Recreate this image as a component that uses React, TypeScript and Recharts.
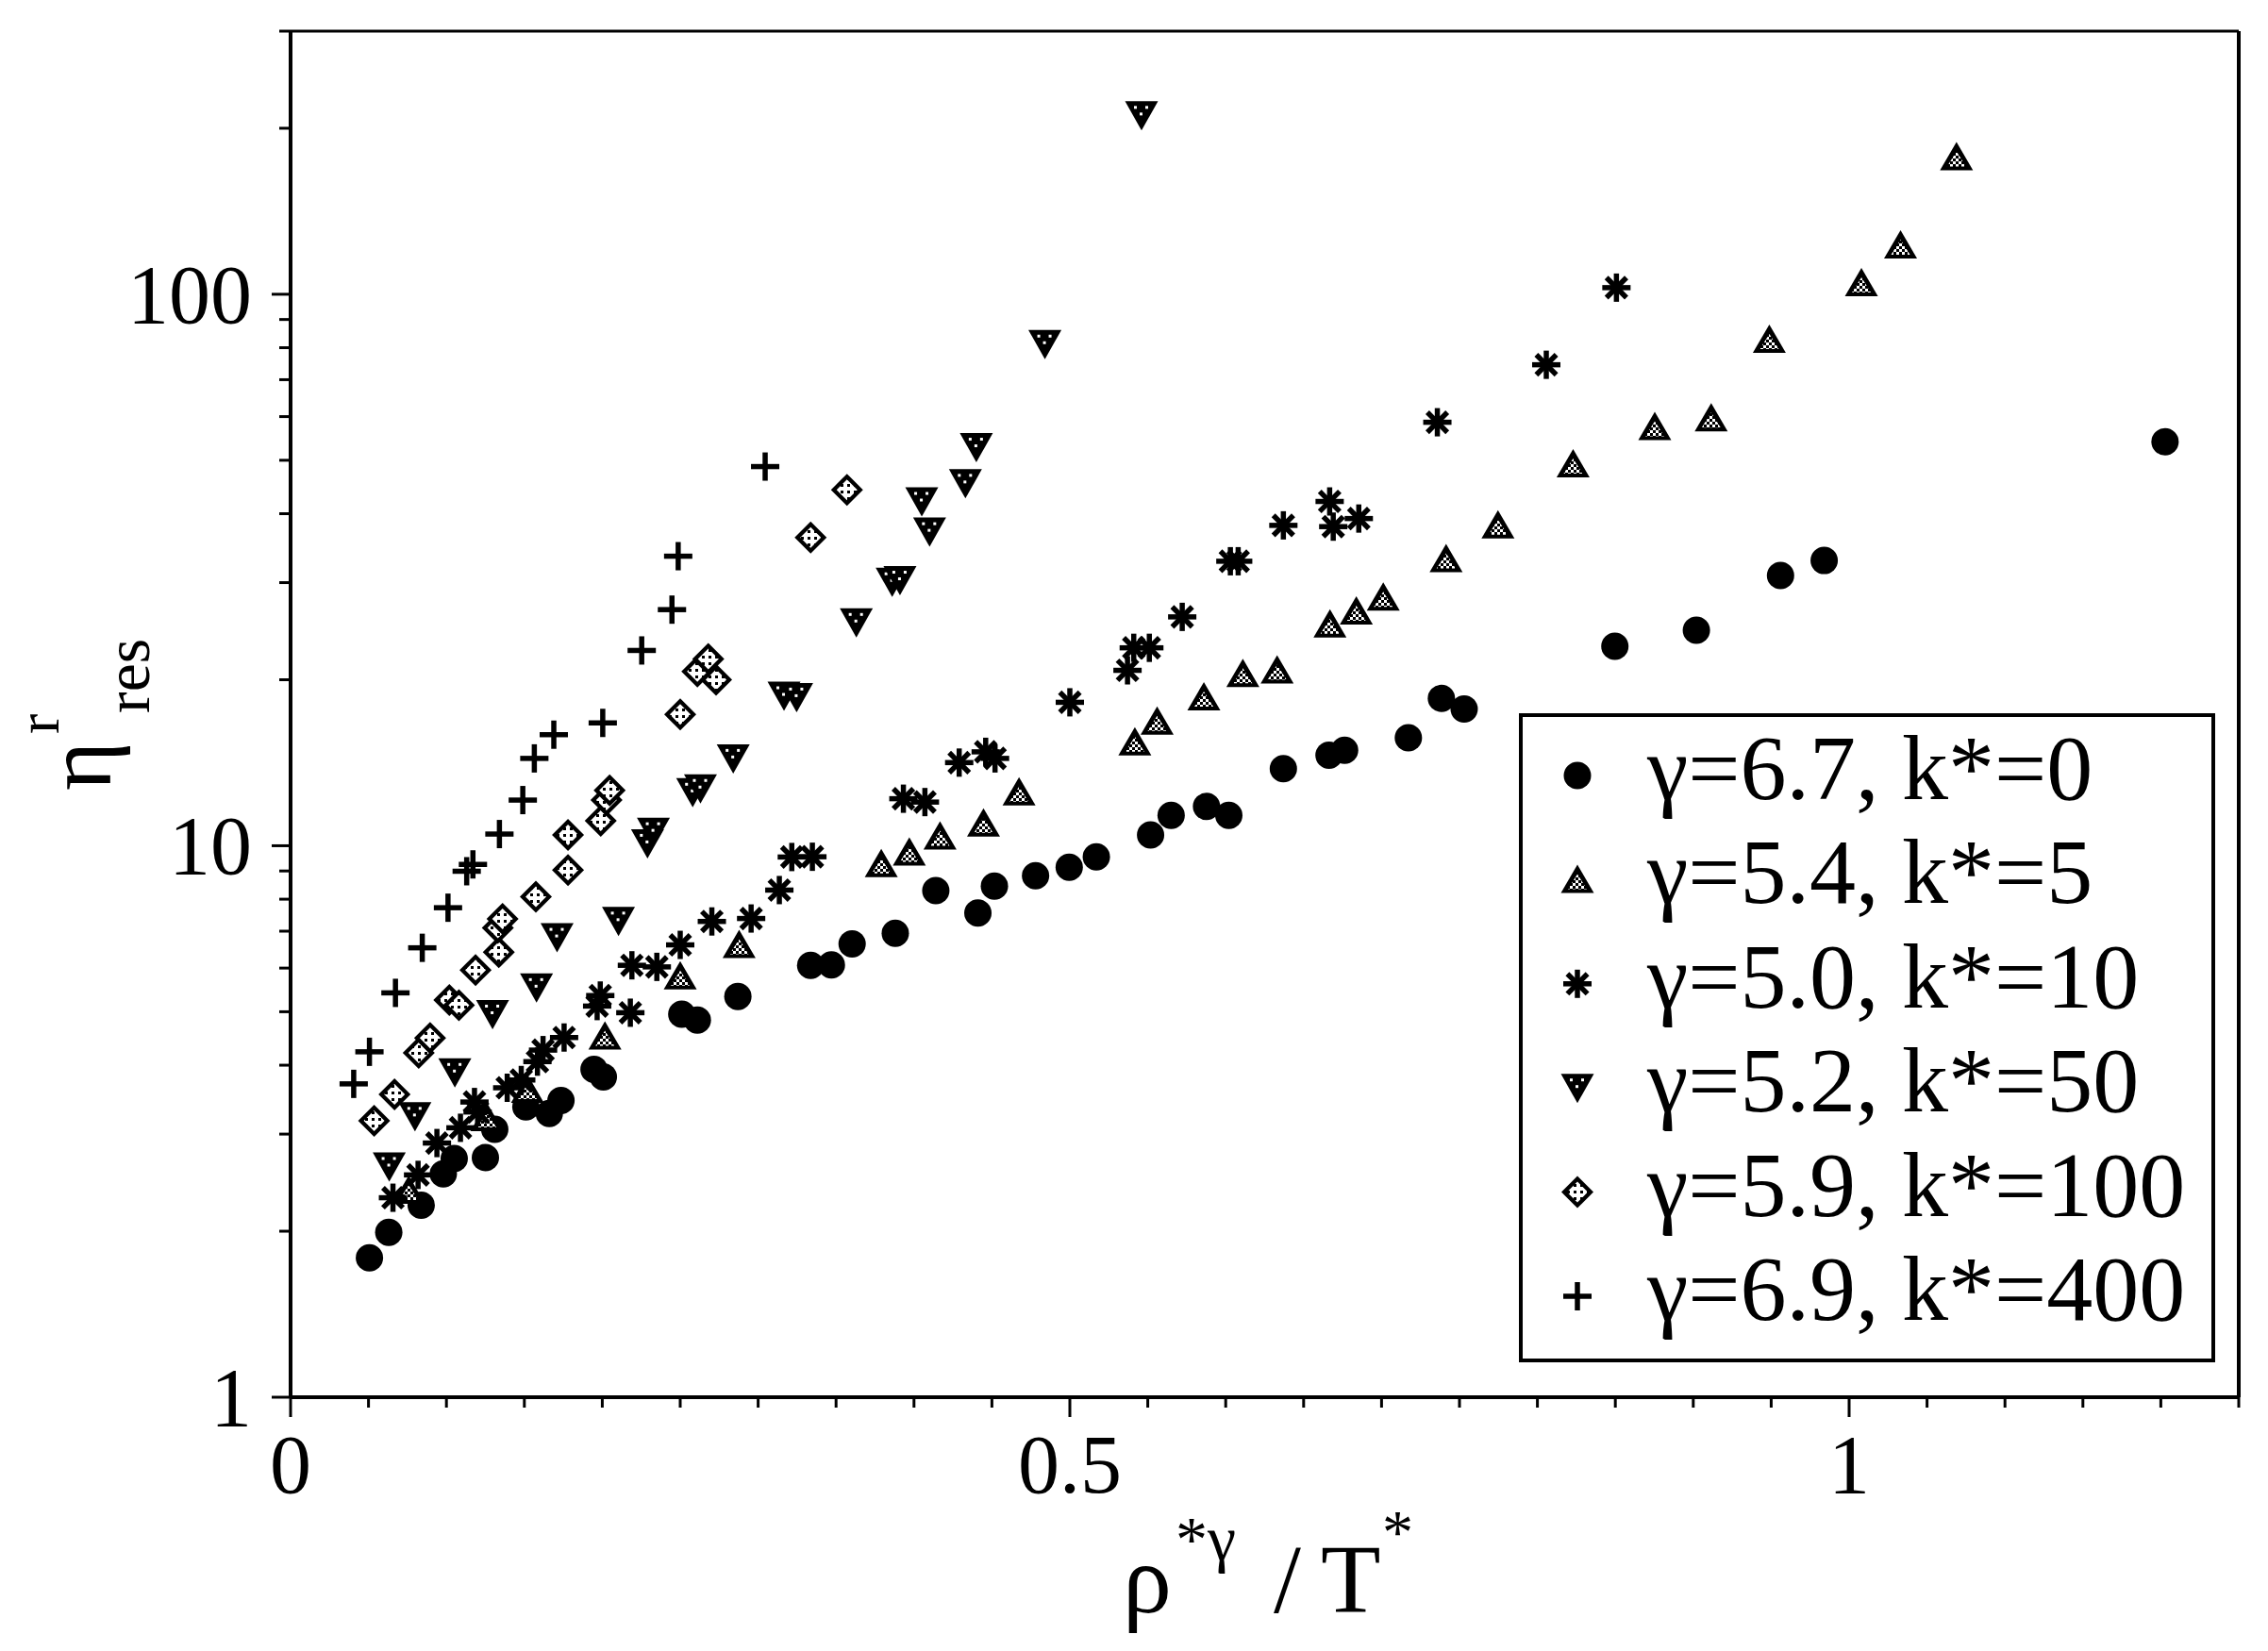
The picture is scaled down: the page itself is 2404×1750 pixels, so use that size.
import React from 'react';
import {
  ScatterChart,
  Scatter,
  XAxis,
  YAxis,
  Legend,
  Label,
  ReferenceLine,
} from 'recharts';

// ---- data: [x = rho*^gamma / T*, y = eta^r_res] ----
const K0 = [
  [0.0506, 1.79], [0.063, 1.99], [0.0838, 2.23], [0.098, 2.54], [0.105, 2.71],
  [0.125, 2.72], [0.131, 3.06], [0.151, 3.36], [0.166, 3.27], [0.1735, 3.45],
  [0.1947, 3.93], [0.2007, 3.81], [0.251, 4.95], [0.261, 4.83], [0.287, 5.33],
  [0.3337, 6.07], [0.347, 6.08], [0.3603, 6.64], [0.388, 6.94], [0.414, 8.29],
  [0.441, 7.55], [0.4516, 8.45], [0.478, 8.82], [0.4996, 9.14], [0.517, 9.55],
  [0.5518, 10.46], [0.565, 11.35], [0.5877, 11.78], [0.602, 11.35], [0.637, 13.8],
  [0.6663, 14.6], [0.6763, 14.9], [0.7172, 15.7], [0.7384, 18.5], [0.753, 17.7],
  [0.8497, 23.0], [0.902, 24.6], [0.956, 30.9], [0.984, 32.9], [1.2027, 54.0],
];

const K5 = [
  [0.0758, 2.37], [0.126, 3.21], [0.152, 3.61], [0.2017, 4.51], [0.25, 5.8],
  [0.2878, 6.61], [0.379, 9.27], [0.397, 9.73], [0.4167, 10.4], [0.4446, 10.98],
  [0.4674, 12.5], [0.5417, 15.4], [0.556, 16.8], [0.586, 18.6], [0.611, 20.5],
  [0.633, 20.8], [0.6669, 25.2], [0.6838, 26.6], [0.7011, 28.2], [0.7414, 33.1],
  [0.7747, 38.1], [0.8229, 49.2], [0.8753, 57.5], [0.9115, 59.6], [0.9488, 82.7],
  [1.0079, 104.8], [1.033, 122.7], [1.0689, 177.3],
];

const K10 = [
  [0.0657, 2.3], [0.0818, 2.53], [0.0939, 2.89], [0.109, 3.08], [0.118, 3.43],
  [0.12, 3.29], [0.139, 3.64], [0.148, 3.76], [0.1584, 4.06], [0.162, 4.26],
  [0.1755, 4.49], [0.1967, 5.12], [0.1987, 5.35], [0.218, 4.98], [0.219, 6.07],
  [0.235, 6.03], [0.25, 6.61], [0.2703, 7.29], [0.2955, 7.38], [0.3136, 8.31],
  [0.3216, 9.54], [0.3348, 9.55], [0.3932, 12.17], [0.407, 12.0], [0.429, 14.15],
  [0.446, 14.8], [0.452, 14.4], [0.5, 18.2], [0.537, 20.8], [0.541, 22.85],
  [0.551, 22.85], [0.5721, 26.0], [0.603, 32.8], [0.608, 32.8], [0.637, 38.1],
  [0.6667, 42.1], [0.669, 37.9], [0.6854, 39.2], [0.7358, 58.6], [0.8057, 74.5],
  [0.8507, 102.8],
];

const K50 = [
  [0.0633, 2.62], [0.0798, 3.23], [0.1054, 3.88], [0.1296, 4.95], [0.1578, 5.53],
  [0.171, 6.82], [0.2104, 7.3], [0.229, 10.1], [0.2328, 10.6], [0.258, 12.5],
  [0.263, 12.7], [0.284, 14.4], [0.3166, 18.7], [0.3247, 18.6], [0.363, 25.4],
  [0.386, 30.1], [0.391, 30.3], [0.405, 42.1], [0.41, 37.1], [0.433, 45.4],
  [0.44, 52.8], [0.484, 81.2], [0.546, 211],
];

const K100 = [
  [0.0536, 3.17], [0.0667, 3.54], [0.0822, 4.21], [0.0895, 4.48], [0.1019, 5.25],
  [0.108, 5.14], [0.1187, 5.95], [0.1336, 6.41], [0.133, 7.1], [0.136, 7.37],
  [0.1574, 8.08], [0.178, 9.03], [0.178, 10.46], [0.199, 11.1], [0.2027, 12.1],
  [0.2047, 12.6], [0.25, 17.3], [0.261, 20.7], [0.268, 21.8], [0.273, 20.0],
  [0.3337, 36.2], [0.357, 44.2],
];

const K400 = [
  [0.0405, 3.7], [0.0506, 4.23], [0.0673, 5.41], [0.0845, 6.53], [0.101, 7.72],
  [0.113, 8.99], [0.117, 9.25], [0.134, 10.5], [0.149, 12.1], [0.1564, 14.4],
  [0.1689, 15.9], [0.2003, 16.7], [0.2253, 22.6], [0.2447, 26.8], [0.2487, 33.5],
  [0.3045, 48.7],
];

const SERIES_NAMES = [
  'γ=6.7, k*=0',
  'γ=5.4, k*=5',
  'γ=5.0, k*=10',
  'γ=5.2, k*=50',
  'γ=5.9, k*=100',
  'γ=6.9, k*=400',
];
const SERIES_DATA = [K0, K5, K10, K50, K100, K400];
const SERIES_KIND = ['circle', 'triUp', 'star', 'triDown', 'diamond', 'plus'];

const X_TICKS = [
  0, 0.05, 0.1, 0.15, 0.2, 0.25, 0.3, 0.35, 0.4, 0.45, 0.5, 0.55, 0.6,
  0.65, 0.7, 0.75, 0.8, 0.85, 0.9, 0.95, 1, 1.05, 1.1, 1.15, 1.2, 1.25,
];
const X_LABELS = [[0, '0'], [0.5, '0.5'], [1, '1']];
const Y_TICKS = [
  1, 2, 3, 4, 5, 6, 7, 8, 9, 10, 20, 30, 40, 50, 60, 70, 80, 90, 100, 200, 300,
];
const Y_LABELS = [[1, '1'], [10, '10'], [100, '100']];

const FONT = 'Liberation Serif, Times New Roman, Tinos, DejaVu Serif, serif';

const toPoints = (arr: number[][]) => arr.map(([x, y]) => ({ x, y }));

function Marker({ kind, cx, cy }: { kind: string; cx: number; cy: number }) {
  if (cx == null || cy == null) return null;
  switch (kind) {
    case 'circle':
      return <circle cx={cx} cy={cy} r={14.5} fill="#000" />;
    case 'triUp': {
      const outer = `${cx},${cy - 16} ${cx + 17.5},${cy + 14} ${cx - 17.5},${cy + 14}`;
      const inner = `${cx},${cy - 6} ${cx + 10},${cy + 10} ${cx - 10},${cy + 10}`;
      return (
        <g>
          <polygon points={outer} fill="#000" />
          <polygon points={inner} fill="url(#checker)" />
        </g>
      );
    }
    case 'triDown': {
      const pts = `${cx - 17.5},${cy - 15} ${cx + 17.5},${cy - 15} ${cx},${cy + 16}`;
      return (
        <g>
          <polygon points={pts} fill="#000" />
          <rect x={cx - 8} y={cy - 10} width={3} height={3} fill="#fff" />
          <rect x={cx + 4} y={cy - 10} width={3} height={3} fill="#fff" />
          <rect x={cx - 2} y={cy - 3} width={3} height={3} fill="#fff" />
        </g>
      );
    }
    case 'diamond': {
      const o = 17;
      const i = 11;
      return (
        <g>
          <polygon points={`${cx},${cy - o} ${cx + o},${cy} ${cx},${cy + o} ${cx - o},${cy}`} fill="#000" />
          <polygon points={`${cx},${cy - i} ${cx + i},${cy} ${cx},${cy + i} ${cx - i},${cy}`} fill="url(#dice)" />
        </g>
      );
    }
    case 'star': {
      const r = 15;
      const d = r * 0.7071;
      return (
        <g stroke="#000" strokeWidth={5.5}>
          <line x1={cx - r} y1={cy} x2={cx + r} y2={cy} />
          <line x1={cx} y1={cy - r} x2={cx} y2={cy + r} />
          <line x1={cx - d} y1={cy - d} x2={cx + d} y2={cy + d} />
          <line x1={cx - d} y1={cy + d} x2={cx + d} y2={cy - d} />
        </g>
      );
    }
    case 'plus':
      return (
        <g stroke="#000" strokeWidth={5.5}>
          <line x1={cx - 15} y1={cy} x2={cx + 15} y2={cy} />
          <line x1={cx} y1={cy - 15} x2={cx} y2={cy + 15} />
        </g>
      );
    default:
      return null;
  }
}

function XTick({ x, y, payload }: any) {
  const v = payload.value;
  const lab = X_LABELS.find((l) => Math.abs((l[0] as number) - v) < 1e-6);
  return (
    <g>
      <line x1={x} y1={y} x2={x} y2={y + (lab ? 21 : 11)} stroke="#000" strokeWidth={3} />
      {lab && (
        <text x={x} y={y + 101} textAnchor="middle" style={{ fontFamily: FONT }} fontSize={88} fill="#000">
          {lab[1]}
        </text>
      )}
    </g>
  );
}

function YTick({ x, y, payload }: any) {
  const v = payload.value;
  const lab = Y_LABELS.find((l) => l[0] === v);
  return (
    <g>
      <line x1={x - (lab ? 20 : 12)} y1={y} x2={x} y2={y} stroke="#000" strokeWidth={3} />
      {lab && (
        <text x={x - 41} y={y + 30} textAnchor="end" style={{ fontFamily: FONT }} fontSize={88} fill="#000">
          {lab[1]}
        </text>
      )}
    </g>
  );
}

function YTitle() {
  return (
    <g transform="translate(117, 838) rotate(-90)">
      <text style={{ fontFamily: FONT }} fill="#000">
        <tspan x={0} y={0} fontSize={100}>η</tspan>
        <tspan x={60} y={-55} fontSize={64}>r</tspan>
        <tspan x={82} y={41} fontSize={68}>res</tspan>
      </text>
    </g>
  );
}

function XTitle() {
  return (
    <text style={{ fontFamily: FONT }} fill="#000">
      <tspan x={1190} y={1709} fontSize={104}>ρ</tspan>
      <tspan x={1246} y={1654} fontSize={68}>*γ</tspan>
      <tspan x={1350} y={1709} fontSize={104}>/</tspan>
      <tspan x={1400} y={1709} fontSize={104}>T</tspan>
      <tspan x={1465} y={1646} fontSize={66}>*</tspan>
    </text>
  );
}

const LEGEND_W = 738;
const LEGEND_H = 688;

function LegendBox({ payload }: any) {
  const present = (payload || []).map((p: any) => p.value);
  const items = SERIES_NAMES.filter((n) => present.includes(n));
  return (
    <div
      style={{
        position: 'relative',
        width: LEGEND_W,
        height: LEGEND_H,
        boxSizing: 'border-box',
        border: '4px solid #000',
        background: '#fff',
      }}
    >
      <svg width={LEGEND_W} height={LEGEND_H} style={{ position: 'absolute', left: -4, top: -4 }}>
        {items.map((name: string, i: number) => {
          const idx = SERIES_NAMES.indexOf(name);
          return (
            <g key={name}>
              <Marker kind={SERIES_KIND[idx]} cx={62} cy={66 + i * 110.4} />
              <text x={136} y={91 + i * 110.4} style={{ fontFamily: FONT }} fontSize={98} fill="#000">
                {name}
              </text>
            </g>
          );
        })}
      </svg>
    </div>
  );
}

export default function App() {
  return (
    <div style={{ position: 'absolute', left: 0, top: 0, width: 2404, height: 1750, background: '#fff' }}>
      <svg width={0} height={0} style={{ position: 'absolute' }}>
        <defs>
          <pattern id="checker" width={6} height={6} patternUnits="userSpaceOnUse">
            <rect width={6} height={6} fill="#fff" />
            <rect x={0} y={0} width={3} height={3} fill="#000" />
            <rect x={3} y={3} width={3} height={3} fill="#000" />
          </pattern>
          <pattern id="dice" width={7} height={7} patternUnits="userSpaceOnUse">
            <rect width={7} height={7} fill="#fff" />
            <rect x={2} y={2} width={3} height={3} fill="#000" />
          </pattern>
        </defs>
      </svg>
      <ScatterChart
        width={2404}
        height={1750}
        margin={{ top: 33, right: 31, bottom: 0, left: 0 }}
      >
        <XAxis
          type="number"
          dataKey="x"
          domain={[0, 1.25]}
          ticks={X_TICKS}
          interval={0}
          allowDataOverflow
          height={269}
          tickSize={0}
          tickMargin={0}
          tickLine={false}
          axisLine={{ stroke: '#000', strokeWidth: 4 }}
          tick={<XTick />}
        >
          <Label content={<XTitle />} />
        </XAxis>
        <YAxis
          type="number"
          dataKey="y"
          scale="log"
          domain={[1, 300]}
          ticks={Y_TICKS}
          interval={0}
          allowDataOverflow
          width={308}
          tickSize={0}
          tickMargin={0}
          tickLine={false}
          axisLine={{ stroke: '#000', strokeWidth: 4 }}
          tick={<YTick />}
        >
          <Label content={<YTitle />} />
        </YAxis>
        <ReferenceLine y={300} stroke="#000" strokeWidth={3} />
        <ReferenceLine x={1.25} stroke="#000" strokeWidth={4} />
        {SERIES_NAMES.map((name, i) => (
          <Scatter
            key={name}
            name={name}
            data={toPoints(SERIES_DATA[i])}
            fill="#000"
            isAnimationActive={false}
            shape={(p: any) => <Marker kind={SERIES_KIND[i]} cx={p.cx} cy={p.cy} />}
          />
        ))}
        <Legend
          layout="horizontal"
          verticalAlign="middle"
          align="center"
          content={<LegendBox />}
          wrapperStyle={{ left: 1610, top: 756, width: LEGEND_W, height: LEGEND_H }}
        />
      </ScatterChart>
    </div>
  );
}
